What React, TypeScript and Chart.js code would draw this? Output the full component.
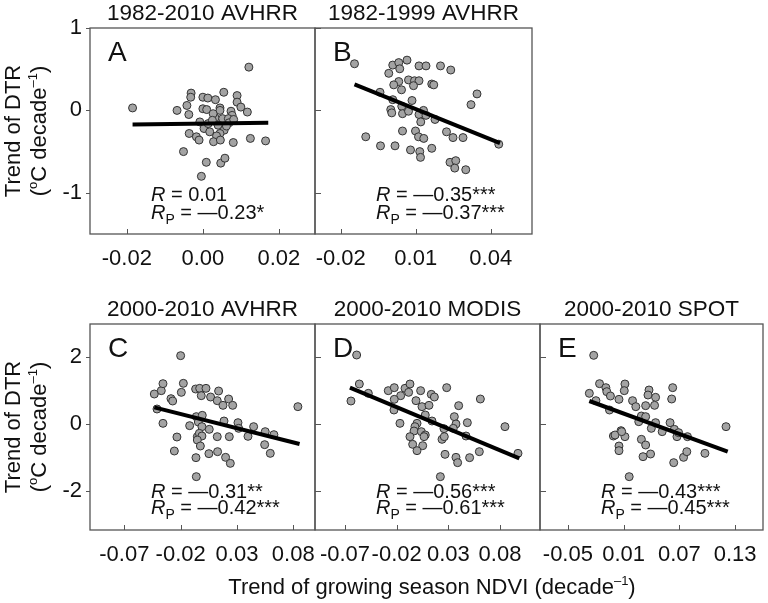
import React, { useEffect, useRef } from "react";
import { Chart, registerables } from "chart.js";
Chart.register(...registerables);

const FONT = "'Liberation Sans', Arial, Helvetica, sans-serif";
const INK = "#111111";
const FRAME = "#555555";

// ---------- Panel A: 1982-2010 AVHRR ----------
const aNdvi = [-0.0185, 0.0121, -0.0068, -0.0031, -0.0032, -0.0042, -0.0037, 0.0, 0.0013, 0.0, 0.001, 0.0033, 0.0055, 0.0045, 0.009, 0.009, 0.01, 0.0117, 0.0074, 0.0077, 0.0045, 0.0032, 0.0052, -0.0008, 0.0003, 0.0018, 0.004, 0.0056, 0.0045, 0.0036, -0.0036, -0.0017, -0.001, 0.0028, 0.0046, 0.008, 0.0125, 0.0165, -0.0051, 0.0009, 0.0047, 0.0058, -0.0004, 0.0067, 0.0027, 0.0014, 0.0069, 0.0081, 0.0025, 0.0062];
const aDtr = [0.03, 0.525, 0.0, 0.21, 0.16, 0.06, -0.05, 0.16, 0.15, 0.02, 0.01, 0.13, 0.22, 0.03, 0.18, 0.1, 0.04, -0.02, -0.01, -0.06, 0.0, -0.09, -0.1, -0.14, -0.22, -0.26, -0.18, -0.24, -0.28, -0.31, -0.28, -0.32, -0.36, -0.38, -0.36, -0.39, -0.34, -0.37, -0.5, -0.63, -0.64, -0.58, -0.8, -0.1, -0.04, -0.16, -0.15, -0.11, -0.12, -0.19];
const aFitX = [-0.0185, 0.0172];
const aFitY = [-0.17, -0.15];
const aTicks = [-0.02, 0, 0.02];
const aTickLabels = ["-0.02", "0.00", "0.02"];

// ---------- Panel B: 1982-1999 AVHRR ----------
const bNdvi = [-0.0145, 0.0008, 0.0032, 0.0065, 0.0036, -0.0008, 0.0113, 0.0141, 0.0199, 0.024, 0.0032, 0.0012, 0.0043, 0.0071, 0.0095, 0.0113, 0.0091, 0.0164, 0.0172, -0.0043, 0.0345, 0.0321, 0.0008, 0.0085, 0.0044, 0.0, 0.0004, 0.0047, 0.0071, 0.0113, 0.0131, 0.0141, 0.012, 0.0177, -0.01, -0.0041, 0.0017, 0.0047, 0.0099, 0.0111, 0.0132, 0.0164, 0.0079, 0.0116, 0.0119, 0.0223, 0.0249, 0.0289, 0.0237, 0.026, 0.0256, 0.03, 0.0432];
const bDtr = [0.566, 0.55, 0.58, 0.61, 0.505, 0.45, 0.54, 0.54, 0.54, 0.49, 0.35, 0.31, 0.25, 0.37, 0.36, 0.36, 0.3, 0.32, 0.31, 0.22, 0.2, 0.07, 0.13, 0.12, 0.05, 0.01, -0.03, -0.04, -0.01, -0.05, 0.0, -0.06, -0.14, -0.11, -0.32, -0.43, -0.43, -0.25, -0.25, -0.32, -0.34, -0.46, -0.48, -0.5, -0.57, -0.26, -0.33, -0.33, -0.63, -0.61, -0.7, -0.72, -0.41];
const bFitX = [-0.0145, 0.0437];
const bFitY = [0.315, -0.396];
const bTicks = [-0.02, 0.01, 0.04];
const bTickLabels = ["-0.02", "0.01", "0.04"];

// ---------- Panel C: 2000-2010 AVHRR ----------
const cNdvi = [-0.02, -0.0434, -0.0372, -0.0357, -0.0176, -0.0194, -0.0286, -0.0271, -0.041, -0.0357, -0.0067, -0.0031, 0.0025, -0.0017, 0.0066, 0.0137, 0.0125, 0.0226, 0.0176, 0.0262, 0.0841, -0.0061, -0.0008, -0.0043, -0.0011, -0.012, -0.0052, -0.0233, -0.0034, -0.0011, -0.0052, -0.0025, 0.0054, 0.0125, 0.0232, 0.0185, 0.0309, 0.0398, 0.0448, 0.0551, 0.0628, 0.0546, 0.0596, -0.0256, -0.0064, 0.0051, 0.0128, 0.0199, 0.0241, -0.0061, 0.0315];
const cDtr = [2.05, 0.9, 1.0, 1.21, 1.22, 0.95, 0.76, 0.69, 0.45, 0.02, 1.05, 1.07, 1.07, 0.85, 0.81, 0.99, 0.7, 0.75, 0.56, 0.56, 0.52, 0.22, 0.26, 0.06, -0.08, -0.05, -0.38, -0.39, -0.28, -0.36, -0.48, -0.66, -0.16, -0.38, -0.38, 0.09, 0.04, -0.37, -0.08, -0.23, -0.32, -0.62, -0.88, -0.81, -1.01, -0.89, -0.83, -1.0, -1.18, -1.58, -0.13];
const cFitX = [-0.0434, 0.0856];
const cFitY = [0.5, -0.6];
const cTicks = [-0.07, -0.02, 0.03, 0.08];
const cTickLabels = ["-0.07", "-0.02", "0.03", "0.08"];

// ---------- Panel D: 2000-2010 MODIS ----------
const dNdvi = [-0.0587, -0.0642, -0.0561, -0.0474, -0.0281, -0.0223, -0.0161, -0.0223, -0.0226, -0.0119, -0.0071, -0.0084, 0.0032, -0.0013, 0.0135, 0.0165, 0.0284, 0.0045, 0.0113, 0.0077, -0.0168, -0.0003, 0.0142, -0.0023, -0.0032, -0.0071, 0.0039, 0.0077, 0.0065, -0.0045, 0.0052, -0.0003, 0.0239, 0.0261, 0.0268, 0.0358, 0.0374, 0.04, 0.0484, 0.0471, 0.0348, 0.061, 0.0848, 0.0374, 0.039, 0.0506, 0.06, 0.0974, 0.0223, 0.0258];
const dDtr = [2.07, 0.69, 1.2, 0.92, 1.0, 1.09, 0.85, 0.74, 0.42, 1.07, 1.2, 0.95, 1.0, 0.7, 0.89, 0.81, 1.09, 0.52, 0.56, 0.27, 0.02, 0.02, 0.09, -0.08, -0.21, -0.38, -0.23, -0.33, -0.38, -0.61, -0.65, -0.8, -0.46, -0.38, -0.91, 0.22, 0.0, 0.55, 0.04, -0.36, -0.13, 0.75, -0.08, -1.0, -1.16, -1.01, -0.83, -0.88, -1.58, -0.14];
const dFitX = [-0.0652, 0.0987];
const dFitY = [1.09, -1.03];
const dTicks = [-0.07, -0.02, 0.03, 0.08];
const dTickLabels = ["-0.07", "-0.02", "0.03", "0.08"];

// ---------- Panel E: 2000-2010 SPOT ----------
const eNdvi = [-0.0222, -0.0269, -0.0159, -0.0091, -0.0081, -0.0042, -0.0198, -0.0052, 0.005, 0.0114, 0.0107, 0.0196, 0.0231, 0.0373, 0.0362, 0.0444, 0.0337, 0.0433, 0.0628, 0.0617, 0.0291, 0.0337, 0.0263, 0.0398, 0.0444, 0.0515, 0.06, 0.0646, 0.0674, 0.0787, 0.1202, 0.0072, -0.001, 0.0008, 0.0114, 0.005, 0.005, 0.0291, 0.0337, 0.0309, 0.039, 0.0639, 0.0745, 0.078, 0.0975, 0.016, 0.0079, 0.0692];
const eDtr = [2.06, 0.92, 1.21, 1.09, 0.97, 0.84, 0.7, 0.42, 0.74, 1.2, 1.0, 0.7, 0.52, 1.02, 0.87, 0.8, 0.55, 0.56, 1.09, 0.75, 0.24, 0.22, 0.07, -0.13, 0.04, -0.23, 0.04, -0.16, -0.38, -0.38, -0.08, -0.2, -0.36, -0.33, -0.38, -0.66, -0.8, -0.46, -0.63, -0.98, -0.9, -1.16, -1.0, -0.83, -0.88, -1.58, -0.23, -0.26];
const eFitX = [-0.0269, 0.122];
const eFitY = [0.69, -0.83];
const eTicks = [-0.05, 0.01, 0.07, 0.13];
const eTickLabels = ["-0.05", "0.01", "0.07", "0.13"];

// ---------- y axes ----------
const topYTicks = [-1, 0, 1];
const topYLabels = ["-1", "0", "1"];
const botYTicks = [-2, 0, 2];
const botYLabels = ["-2", "0", "2"];

const titles = ["1982-2010 AVHRR", "1982-1999 AVHRR", "2000-2010 AVHRR", "2000-2010 MODIS", "2000-2010 SPOT"];
const letters = ["A", "B", "C", "D", "E"];
const rValues = ["0.01", "\u20140.35***", "\u20140.31**", "\u20140.56***", "\u20140.43***"];
const rpValues = ["\u20140.23*", "\u20140.37***", "\u20140.42***", "\u20140.61***", "\u20140.45***"];
const yTitle1 = "Trend of DTR";
const xTitle = "Trend of growing season NDVI (decade";

type Seg = { t: string; size: number; dy?: number; italic?: boolean };

function drawRich(ctx: CanvasRenderingContext2D, segs: Seg[], x: number, y: number, align: "left" | "center") {
  ctx.save();
  ctx.textAlign = "left";
  ctx.textBaseline = "alphabetic";
  ctx.fillStyle = INK;
  const fontOf = (s: Seg) => `${s.italic ? "italic " : ""}${s.size}px ${FONT}`;
  let w = 0;
  for (const s of segs) {
    ctx.font = fontOf(s);
    w += ctx.measureText(s.t).width;
  }
  let cx = align === "center" ? x - w / 2 : x;
  for (const s of segs) {
    ctx.font = fontOf(s);
    ctx.fillText(s.t, cx, y + (s.dy || 0));
    cx += ctx.measureText(s.t).width;
  }
  ctx.restore();
}

type Panel = {
  idx: number;
  xs: number[]; ys: number[]; fitX: number[]; fitY: number[];
  xMin: number; xMax: number; yMin: number; yMax: number;
  xTicks: number[]; xLabels: string[]; yTicks: number[]; yLabels: string[];
  yLabelsShown: boolean;
  box: { l: number; t: number; r: number; b: number };
  stat1: number; stat2: number;
  yTitleAt?: number; drawXTitle?: boolean;
};

const panels: Panel[] = [
  { idx: 0, xs: aNdvi, ys: aDtr, fitX: aFitX, fitY: aFitY, xMin: -0.0297, xMax: 0.0295, yMin: -1.5, yMax: 1, xTicks: aTicks, xLabels: aTickLabels, yTicks: topYTicks, yLabels: topYLabels, yLabelsShown: true, box: { l: 90, t: 28, r: 315, b: 234 }, stat1: 33, stat2: 15, yTitleAt: 131 },
  { idx: 1, xs: bNdvi, ys: bDtr, fitX: bFitX, fitY: bFitY, xMin: -0.0303, xMax: 0.0565, yMin: -1.5, yMax: 1, xTicks: bTicks, xLabels: bTickLabels, yTicks: topYTicks, yLabels: topYLabels, yLabelsShown: false, box: { l: 315, t: 28, r: 532, b: 234 }, stat1: 33, stat2: 15 },
  { idx: 2, xs: cNdvi, ys: cDtr, fitX: cFitX, fitY: cFitY, xMin: -0.1005, xMax: 0.0993, yMin: -3.18, yMax: 3, xTicks: cTicks, xLabels: cTickLabels, yTicks: botYTicks, yLabels: botYLabels, yLabelsShown: true, box: { l: 90, t: 324, r: 315, b: 530 }, stat1: 32, stat2: 16, yTitleAt: 427 },
  { idx: 3, xs: dNdvi, ys: dDtr, fitX: dFitX, fitY: dFitY, xMin: -0.099, xMax: 0.1187, yMin: -3.18, yMax: 3, xTicks: dTicks, xLabels: dTickLabels, yTicks: botYTicks, yLabels: botYLabels, yLabelsShown: false, box: { l: 315, t: 324, r: 540, b: 530 }, stat1: 32, stat2: 16, drawXTitle: true },
  { idx: 4, xs: eNdvi, ys: eDtr, fitX: eFitX, fitY: eFitY, xMin: -0.08, xMax: 0.16, yMin: -3.18, yMax: 3, xTicks: eTicks, xLabels: eTickLabels, yTicks: botYTicks, yLabels: botYLabels, yLabelsShown: false, box: { l: 540, t: 324, r: 766, b: 530 }, stat1: 32, stat2: 16 },
];

const W = 768;
const H = 603;
const X_AXIS_H = 40;

function labelFor(ticks: number[], labels: string[], v: number) {
  const i = ticks.findIndex((t) => Math.abs(t - v) < 1e-9);
  return i >= 0 ? labels[i] : "";
}

function makeConfig(p: Panel): any {
  const yW = p.yLabelsShown ? 50 : 0;
  const deco = {
    id: "deco" + p.idx,
    afterDraw(chart: any) {
      const ctx: CanvasRenderingContext2D = chart.ctx;
      const a = chart.chartArea;
      const xs = chart.scales.x;
      const ys = chart.scales.y;
      ctx.save();
      // frame
      ctx.strokeStyle = FRAME;
      ctx.lineWidth = 1.3;
      ctx.strokeRect(a.left, a.top, a.right - a.left, a.bottom - a.top);
      // x tick marks (inward)
      ctx.lineWidth = 1;
      ctx.beginPath();
      for (const v of p.xTicks) {
        const px = Math.round(xs.getPixelForValue(v)) + 0.5;
        ctx.moveTo(px, a.bottom);
        ctx.lineTo(px, a.bottom - 5);
      }
      // y tick marks
      for (const v of p.yTicks) {
        const py = Math.round(ys.getPixelForValue(v)) + 0.5;
        if (p.yLabelsShown) {
          ctx.moveTo(a.left - 4, py);
          ctx.lineTo(a.left, py);
        } else {
          ctx.moveTo(a.left, py);
          ctx.lineTo(a.left + 6, py);
        }
      }
      ctx.stroke();
      ctx.restore();

      // title
      drawRich(ctx, [{ t: titles[p.idx], size: 22.5 }], (a.left + a.right) / 2, a.top - 8, "center");
      // panel letter
      drawRich(ctx, [{ t: letters[p.idx], size: 28 }], a.left + 18, a.top + 33, "left");
      // statistics
      const sx = a.left + 61;
      drawRich(ctx, [{ t: "R", size: 20, italic: true }, { t: " = " + rValues[p.idx], size: 20 }], sx, a.bottom - p.stat1, "left");
      drawRich(ctx, [{ t: "R", size: 20, italic: true }, { t: "P", size: 14, dy: 5 }, { t: " = " + rpValues[p.idx], size: 20 }], sx, a.bottom - p.stat2, "left");

      // y-axis title for the row
      if (p.yTitleAt !== undefined) {
        ctx.save();
        ctx.translate(20, p.yTitleAt);
        ctx.rotate(-Math.PI / 2);
        drawRich(ctx, [{ t: yTitle1, size: 22 }], 0, 0, "center");
        ctx.restore();
        ctx.save();
        ctx.translate(46, p.yTitleAt);
        ctx.rotate(-Math.PI / 2);
        drawRich(ctx, [
          { t: "(", size: 22 },
          { t: "o", size: 13, dy: -9 },
          { t: "C decade", size: 22 },
          { t: "\u20131", size: 13, dy: -9 },
          { t: ")", size: 22 },
        ], 0, 0, "center");
        ctx.restore();
      }
      if (p.drawXTitle) {
        drawRich(ctx, [
          { t: xTitle, size: 22 },
          { t: "\u20131", size: 13, dy: -9 },
          { t: ")", size: 22 },
        ], 432, 594, "center");
      }
    },
  };

  return {
    type: "scatter",
    data: {
      datasets: [
        {
          data: p.fitX.map((x, i) => ({ x, y: p.fitY[i] })),
          showLine: true,
          borderColor: "#000000",
          borderWidth: 4,
          pointRadius: 0,
          borderCapStyle: "butt",
          fill: false,
        },
        {
          data: p.xs.map((x, i) => ({ x, y: p.ys[i] })),
          pointRadius: 4,
          pointBackgroundColor: "#a3a3a3",
          pointBorderColor: "#333333",
          pointBorderWidth: 1,
          showLine: false,
        },
      ],
    },
    options: {
      animation: false,
      responsive: false,
      devicePixelRatio: 1,
      events: [],
      layout: {
        padding: { left: p.box.l - yW, top: p.box.t, right: W - p.box.r, bottom: H - p.box.b - X_AXIS_H },
      },
      plugins: { legend: { display: false }, tooltip: { enabled: false }, title: { display: false } },
      scales: {
        x: {
          type: "linear",
          position: "bottom",
          min: p.xMin,
          max: p.xMax,
          afterBuildTicks: (s: any) => {
            s.ticks = p.xTicks.map((v) => ({ value: v }));
          },
          afterFit: (s: any) => {
            s.height = X_AXIS_H;
          },
          grid: { display: true, drawOnChartArea: false, drawTicks: true, tickLength: 12, color: "rgba(0,0,0,0)" },
          border: { display: false },
          ticks: {
            padding: 0,
            autoSkip: false,
            maxRotation: 0,
            minRotation: 0,
            color: INK,
            font: { family: FONT, size: 22 },
            callback: (v: number) => labelFor(p.xTicks, p.xLabels, v),
          },
        },
        y: {
          type: "linear",
          position: "left",
          min: p.yMin,
          max: p.yMax,
          afterBuildTicks: (s: any) => {
            s.ticks = p.yTicks.map((v) => ({ value: v }));
          },
          afterFit: (s: any) => {
            s.width = yW;
          },
          grid: { display: p.yLabelsShown, drawOnChartArea: false, drawTicks: true, tickLength: 8, color: "rgba(0,0,0,0)" },
          border: { display: false },
          ticks: {
            display: p.yLabelsShown,
            padding: 0,
            autoSkip: false,
            color: INK,
            font: { family: FONT, size: 22 },
            callback: (v: number) => labelFor(p.yTicks, p.yLabels, v),
          },
        },
      },
    },
    plugins: [deco],
  };
}

function PanelCanvas({ p }: { p: Panel }) {
  const ref = useRef<HTMLCanvasElement | null>(null);
  useEffect(() => {
    if (!ref.current) return;
    const chart = new Chart(ref.current, makeConfig(p));
    return () => chart.destroy();
  }, [p]);
  return (
    <canvas
      ref={ref}
      width={W}
      height={H}
      style={{ position: "absolute", left: 0, top: 0, width: W, height: H }}
    />
  );
}

export default function App() {
  return (
    <div style={{ position: "absolute", left: 0, top: 0, width: W, height: H, background: "#ffffff", overflow: "hidden" }}>
      {panels.map((p) => (
        <PanelCanvas key={p.idx} p={p} />
      ))}
    </div>
  );
}
